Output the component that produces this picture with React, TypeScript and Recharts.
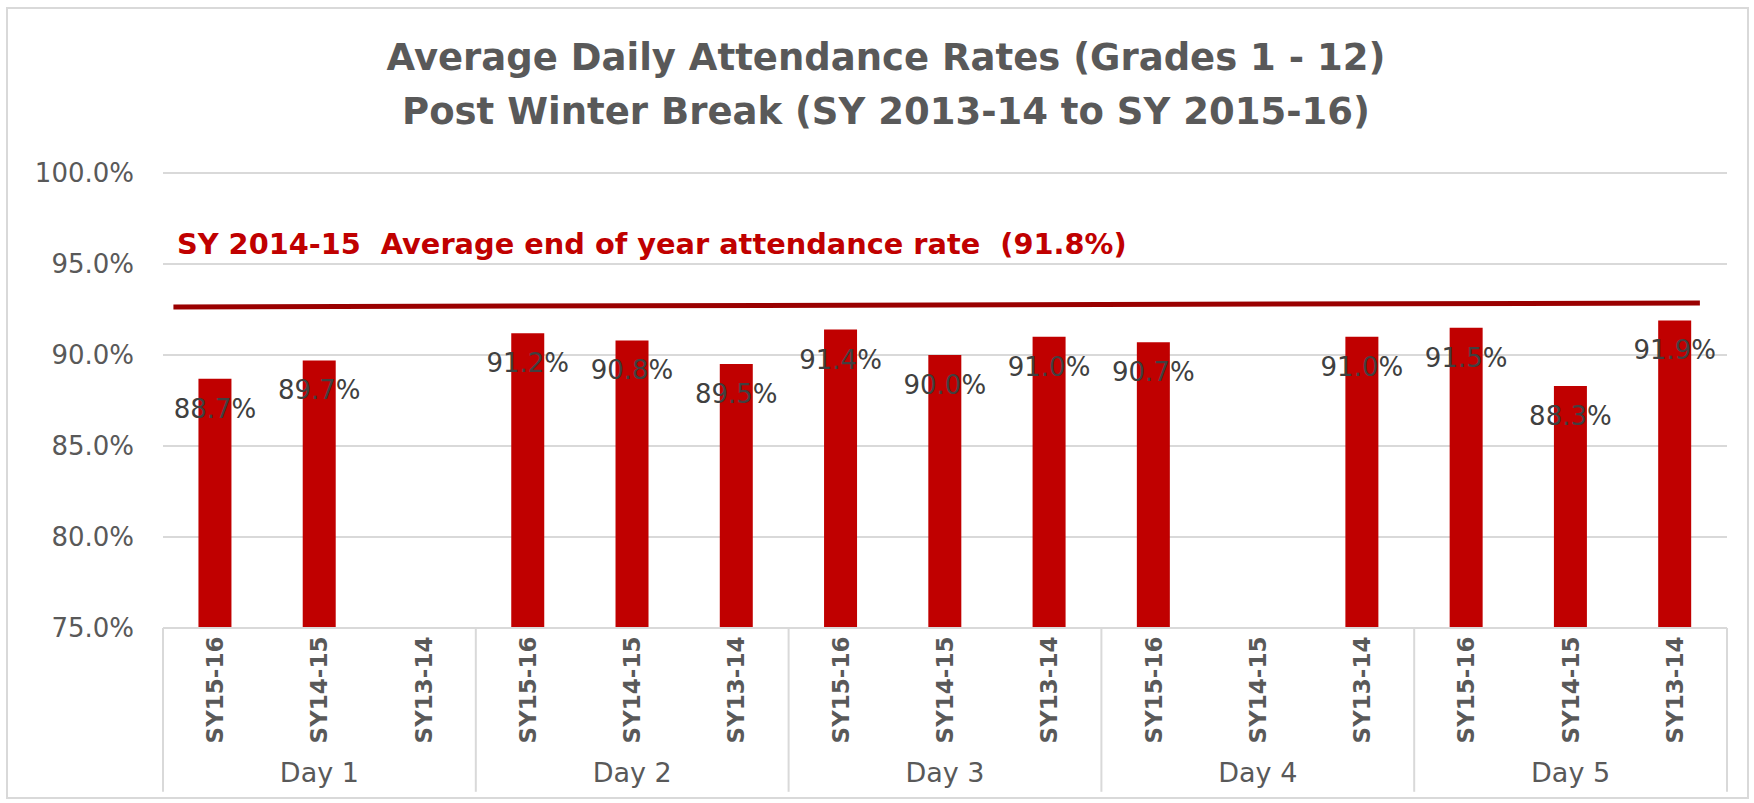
import {
  ComposedChart,
  Bar,
  XAxis,
  YAxis,
  CartesianGrid,
  LabelList,
  ReferenceLine,
} from "recharts";

// Post winter break attendance, grouped Day 1..5, three school years each.
const seasons = [
  "SY15-16", "SY14-15", "SY13-14",
  "SY15-16", "SY14-15", "SY13-14",
  "SY15-16", "SY14-15", "SY13-14",
  "SY15-16", "SY14-15", "SY13-14",
  "SY15-16", "SY14-15", "SY13-14",
];
const days = [
  "Day 1", "Day 1", "Day 1",
  "Day 2", "Day 2", "Day 2",
  "Day 3", "Day 3", "Day 3",
  "Day 4", "Day 4", "Day 4",
  "Day 5", "Day 5", "Day 5",
];
const rates: (number | null)[] = [
  88.7, 89.7, null,
  91.2, 90.8, 89.5,
  91.4, 90.0, 91.0,
  90.7, null, 91.0,
  91.5, 88.3, 91.9,
];
const yTicks = [75, 80, 85, 90, 95, 100];
// category boundaries between the day groups (in category units)
const dayEdges = [0, 3, 6, 9, 12, 15];
// the hand-drawn benchmark bar across the chart
const benchmarkX = [0.1, 14.74];
const benchmarkY = [92.64, 92.86];

const data = seasons.map((season, i) => ({
  season,
  day: days[i],
  rate: rates[i],
}));

const FONT = "'DejaVu Sans', sans-serif";
const GREY = "#595959";
const BAR_RED = "#C00000";

function SeasonTick(props: any) {
  const { x, y, payload, index } = props;
  return (
    <g>
      <text
        transform={`translate(${x},${y + 62}) rotate(-90)`}
        textAnchor="middle"
        dominantBaseline="central"
        fontFamily={FONT}
        fontWeight="bold"
        fontSize={23}
        fill={GREY}
      >
        {payload.value}
      </text>
      {index % 3 === 1 && (
        <text
          x={x}
          y={y + 144}
          textAnchor="middle"
          dominantBaseline="central"
          fontFamily={FONT}
          fontSize={27}
          fill={GREY}
        >
          {days[index]}
        </text>
      )}
    </g>
  );
}

function BarValue(props: any) {
  const { x, y, width, value } = props;
  if (value == null) return null;
  return (
    <text
      x={x + width / 2}
      y={y + 30}
      textAnchor="middle"
      dominantBaseline="central"
      fontFamily={FONT}
      fontSize={26}
      fill="#404040"
    >
      {Number(value).toFixed(1)}%
    </text>
  );
}

export default function App() {
  return (
    <div
      style={{
        position: "absolute",
        left: 0,
        top: 0,
        width: 1754,
        height: 803,
        background: "#fff",
      }}
    >
      <div
        style={{
          position: "absolute",
          left: 6,
          top: 7,
          width: 1739,
          height: 788,
          border: "2px solid #d9d9d9",
        }}
      />
      <div
        style={{
          position: "absolute",
          left: 86,
          top: 31,
          width: 1600,
          textAlign: "center",
          fontFamily: FONT,
          fontWeight: "bold",
          fontSize: 37,
          lineHeight: "54px",
          color: GREY,
        }}
      >
        <div>Average Daily Attendance Rates (Grades 1 - 12)</div>
        <div>Post Winter Break (SY 2013-14 to SY 2015-16)</div>
      </div>
      <div
        style={{
          position: "absolute",
          left: 177,
          top: 225,
          fontFamily: FONT,
          fontWeight: "bold",
          fontSize: 28.8,
          lineHeight: "38px",
          color: BAR_RED,
          whiteSpace: "pre",
        }}
      >
        {"SY 2014-15  Average end of year attendance rate  (91.8%)"}
      </div>
      <ComposedChart
        width={1754}
        height={803}
        data={data}
        margin={{ top: 173, right: 27, bottom: 0, left: 33 }}
        barCategoryGap="34%"
      >
        <CartesianGrid vertical={false} stroke="#d9d9d9" strokeWidth={2} />
        <XAxis
          dataKey="season"
          height={175}
          axisLine={{ stroke: "#d9d9d9", strokeWidth: 2 }}
          tickLine={false}
          tickSize={0}
          tickMargin={0}
          interval={0}
          tick={<SeasonTick />}
        />
        {/* linear helper axis across the 15 category slots, used for the
            day separators and the benchmark bar */}
        <XAxis
          xAxisId="grp"
          type="number"
          dataKey="rate"
          domain={[0, 15]}
          allowDataOverflow
          hide
        />
        <YAxis
          width={130}
          domain={[75, 100]}
          ticks={yTicks}
          allowDataOverflow
          axisLine={false}
          tickLine={false}
          tickSize={6}
          tickMargin={23}
          tickFormatter={(v) => `${Number(v).toFixed(1)}%`}
          tick={{ fill: GREY, fontSize: 26, fontFamily: FONT }}
        />
        <Bar dataKey="rate" fill={BAR_RED} isAnimationActive={false}>
          <LabelList dataKey="rate" content={<BarValue />} />
        </Bar>
        {dayEdges.map((edge) => (
          <ReferenceLine
            key={edge}
            xAxisId="grp"
            ifOverflow="visible"
            segment={[
              { x: edge, y: 75 },
              { x: edge, y: 66 },
            ]}
            stroke="#d9d9d9"
            strokeWidth={2}
          />
        ))}
        <ReferenceLine
          xAxisId="grp"
          ifOverflow="visible"
          segment={[
            { x: benchmarkX[0], y: benchmarkY[0] },
            { x: benchmarkX[1], y: benchmarkY[1] },
          ]}
          stroke="#9A0000"
          strokeWidth={5}
        />
      </ComposedChart>
    </div>
  );
}
